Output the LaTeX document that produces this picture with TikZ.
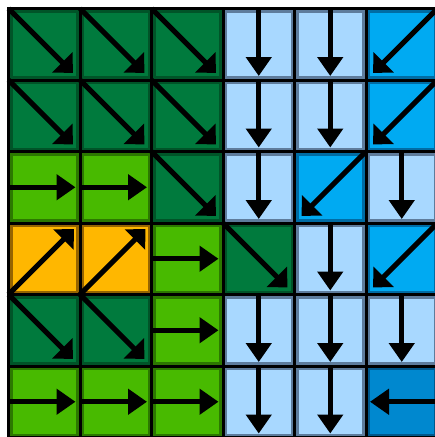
\documentclass[tikz,border=0pt]{standalone}
\usetikzlibrary{positioning,arrows.meta}

\definecolor{segreen}{RGB}{0,122,61}
\definecolor{segreenline}{RGB}{0,84,40}
\definecolor{egreen}{RGB}{72,186,0}
\definecolor{egreenline}{RGB}{44,120,0}
\definecolor{sblue}{RGB}{168,216,255}
\definecolor{sblueline}{RGB}{94,124,156}
\definecolor{swblue}{RGB}{0,170,242}
\definecolor{swblueline}{RGB}{0,108,164}
\definecolor{neorange}{RGB}{255,183,0}
\definecolor{neorangeline}{RGB}{150,100,0}
\definecolor{wblue}{RGB}{0,136,207}
\definecolor{wblueline}{RGB}{0,88,140}

\begin{document}
\begin{tikzpicture}[
  node distance=0pt,
  cell/.style={rectangle,minimum size=71.5pt,inner sep=0pt,outer sep=0pt,
    draw=black,line width=3pt,
    path picture={\draw[line width=8pt,draw=#1] (path picture bounding box.south west)
      rectangle (path picture bounding box.north east);}},
  diagarrow/.style={line width=5pt,-{Triangle[length=15pt,width=28pt]}},
  straightarrow/.style={line width=5pt,-{Triangle[length=19pt,width=25pt]}},
  sebox/.style={cell=segreenline,fill=segreen,append after command={
    (\tikzlastnode.north west) edge[diagarrow,shorten >=10pt] (\tikzlastnode.south east)}},
  nebox/.style={cell=neorangeline,fill=neorange,append after command={
    (\tikzlastnode.south west) edge[diagarrow,shorten >=8.5pt] (\tikzlastnode.north east)}},
  swbox/.style={cell=swblueline,fill=swblue,append after command={
    (\tikzlastnode.north east) edge[diagarrow,shorten >=10pt] (\tikzlastnode.south west)}},
  sbox/.style={cell=sblueline,fill=sblue,append after command={
    (\tikzlastnode.north) edge[straightarrow,shorten >=4pt] (\tikzlastnode.south)}},
  ebox/.style={cell=egreenline,fill=egreen,append after command={
    (\tikzlastnode.west) edge[straightarrow,shorten >=4.5pt] (\tikzlastnode.east)}},
  wbox/.style={cell=wblueline,fill=wblue,append after command={
    (\tikzlastnode.east) edge[straightarrow,shorten >=4pt] (\tikzlastnode.west)}}
]
  \useasboundingbox[fill=white] (0,0) rectangle (435pt,-437pt);

  % row a
  \node[sebox] (a1) at (44.25pt,-44.25pt) {};
  \node[sebox,right=of a1] (a2) {};
  \node[sebox,right=of a2] (a3) {};
  \node[sbox,right=of a3] (a4) {};
  \node[sbox,right=of a4] (a5) {};
  \node[swbox,right=of a5] (a6) {};
  % row b
  \node[sebox,below=of a1] (b1) {};
  \node[sebox,right=of b1] (b2) {};
  \node[sebox,right=of b2] (b3) {};
  \node[sbox,right=of b3] (b4) {};
  \node[sbox,right=of b4] (b5) {};
  \node[swbox,right=of b5] (b6) {};
  % row c
  \node[ebox,below=of b1] (c1) {};
  \node[ebox,right=of c1] (c2) {};
  \node[sebox,right=of c2] (c3) {};
  \node[sbox,right=of c3] (c4) {};
  \node[swbox,right=of c4] (c5) {};
  \node[sbox,right=of c5] (c6) {};
  % row d
  \node[nebox,below=of c1] (d1) {};
  \node[nebox,right=of d1] (d2) {};
  \node[ebox,right=of d2] (d3) {};
  \node[sebox,right=of d3] (d4) {};
  \node[sbox,right=of d4] (d5) {};
  \node[swbox,right=of d5] (d6) {};
  % row e
  \node[sebox,below=of d1] (e1) {};
  \node[sebox,right=of e1] (e2) {};
  \node[ebox,right=of e2] (e3) {};
  \node[sbox,right=of e3] (e4) {};
  \node[sbox,right=of e4] (e5) {};
  \node[sbox,right=of e5] (e6) {};
  % row f
  \node[ebox,below=of e1] (f1) {};
  \node[ebox,right=of f1] (f2) {};
  \node[ebox,right=of f2] (f3) {};
  \node[sbox,right=of f3] (f4) {};
  \node[sbox,right=of f4] (f5) {};
  \node[wbox,right=of f5] (f6) {};
\end{tikzpicture}
\end{document}
